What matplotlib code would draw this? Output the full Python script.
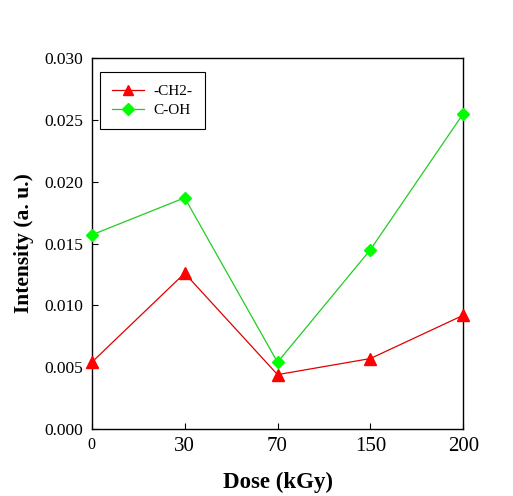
import matplotlib
matplotlib.use("Agg")
import matplotlib.pyplot as plt

# data
doses = ["0", "30", "70", "150", "200"]
ch2 = [0.0054, 0.0126, 0.0044, 0.0057, 0.0092]
coh = [0.0157, 0.0187, 0.0054, 0.0145, 0.0255]
yticks = [0.000, 0.005, 0.010, 0.015, 0.020, 0.025, 0.030]

plt.rcParams['font.family'] = ['Liberation Serif', 'DejaVu Serif']

fig = plt.figure(figsize=(5.13, 4.96), dpi=100)
ax = fig.add_axes([0.179, 0.135, 0.724, 0.748])

x = list(range(len(doses)))
ax.plot(x, ch2, color='#e00000', lw=0.9, marker='^', ms=8,
        mfc='#ff0000', mec='#ff0000', label='-CH2-', clip_on=False, zorder=3)
ax.plot(x, coh, color='#22cc22', lw=0.9, marker='D', ms=6.5,
        mfc='#00ff00', mec='#00ff00', label='C-OH', clip_on=False, zorder=3)

ax.set_xlim(0, len(doses) - 1)
ax.set_ylim(0, 0.030)
ax.set_xticks(x)
ax.set_xticklabels(doses, fontsize=15)
ax.get_xticklabels()[0].set_fontsize(11.5)
ax.set_yticks(yticks)
ax.set_yticklabels([f"{v:.3f}" for v in yticks], fontsize=12.5)
ax.tick_params(direction='in', length=4, width=0.8, top=False, right=False)
ax.tick_params(axis='x', pad=6)
ax.tick_params(axis='y', pad=6)

for s in ax.spines.values():
    s.set_linewidth(1.0)

ax.set_xlabel("Dose (kGy)", fontsize=16.5, fontweight='bold', labelpad=11)
ax.set_ylabel("Intensity (a. u.)", fontsize=15.5, fontweight='bold', labelpad=8)

leg = ax.legend(loc='upper left', bbox_to_anchor=(0.022, 0.962), fontsize=11,
                fancybox=False, edgecolor='black', framealpha=1,
                handlelength=2.1, handletextpad=0.6, borderpad=0.8,
                labelspacing=0.35, borderaxespad=0, markerscale=0.9)
leg.get_frame().set_linewidth(0.8)

fig.savefig("out.png", dpi=100)
